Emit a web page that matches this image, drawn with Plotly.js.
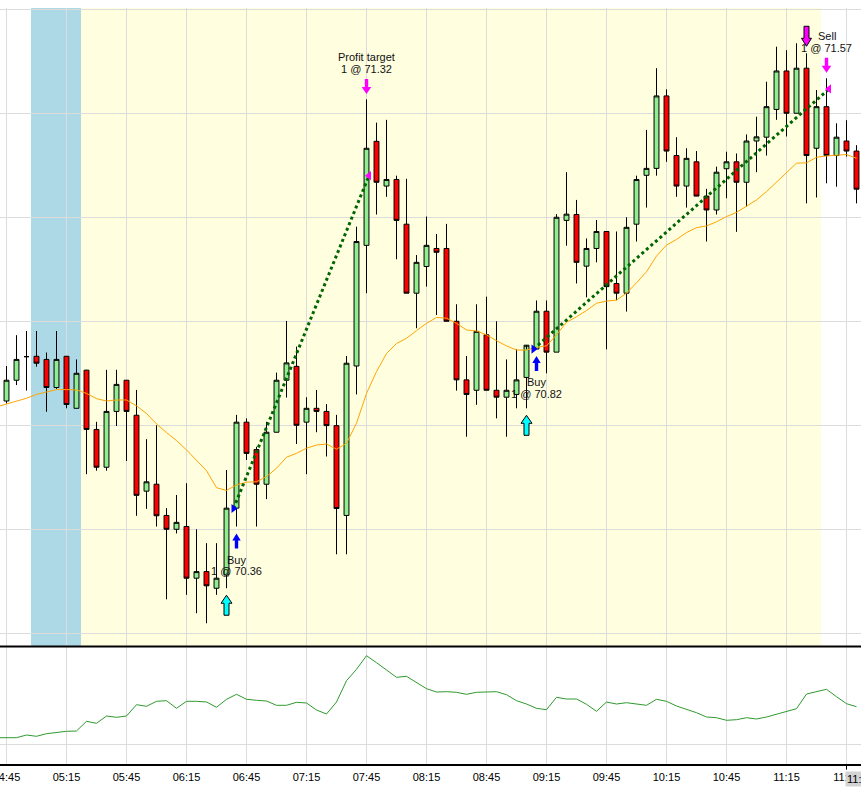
<!DOCTYPE html>
<html>
<head>
<meta charset="utf-8">
<script src="https://cdn.plot.ly/plotly-3.0.1.min.js"></script>
<style>html,body{margin:0;padding:0;background:#fff;}#chart{width:861px;height:790px;}</style>
</head>
<body>
<div id="chart"></div>
<script>
// ---------- DATA ----------
const day = '2024-01-02';
const times = ["04:45","04:50","04:55","05:00","05:05","05:10","05:15","05:20","05:25","05:30","05:35","05:40","05:45","05:50","05:55","06:00","06:05","06:10","06:15","06:20","06:25","06:30","06:35","06:40","06:45","06:50","06:55","07:00","07:05","07:10","07:15","07:20","07:25","07:30","07:35","07:40","07:45","07:50","07:55","08:00","08:05","08:10","08:15","08:20","08:25","08:30","08:35","08:40","08:45","08:50","08:55","09:00","09:05","09:10","09:15","09:20","09:25","09:30","09:35","09:40","09:45","09:50","09:55","10:00","10:05","10:10","10:15","10:20","10:25","10:30","10:35","10:40","10:45","10:50","10:55","11:00","11:05","11:10","11:15","11:20","11:25","11:30","11:35","11:40","11:45","11:50"];
const open = [70.670,70.730,70.798,70.799,70.790,70.709,70.799,70.649,70.759,70.588,70.479,70.640,70.730,70.629,70.410,70.430,70.340,70.300,70.308,70.159,70.178,70.130,70.168,70.361,70.609,70.530,70.430,70.580,70.730,70.770,70.609,70.649,70.640,70.599,70.340,70.771,71.119,71.419,71.290,71.309,71.180,70.981,71.058,71.110,71.110,70.900,70.731,70.701,70.861,70.701,70.681,70.689,70.738,70.820,70.929,70.811,71.191,71.208,71.059,71.110,71.159,71.009,70.981,71.180,71.321,71.341,71.550,71.378,71.290,71.360,71.261,71.221,71.340,71.360,71.301,71.420,71.431,71.511,71.622,71.500,71.630,71.399,71.519,71.378,71.420,71.391];
const high = [70.771,70.860,70.872,70.872,70.810,70.872,70.800,70.790,70.760,70.610,70.760,70.760,70.730,70.702,70.560,70.600,70.361,70.399,70.433,70.300,70.260,70.260,70.471,70.630,70.620,70.538,70.610,70.752,70.901,70.827,70.681,70.702,70.661,70.630,70.800,71.173,71.540,71.473,71.481,71.320,71.311,71.091,71.202,71.152,71.181,70.949,70.800,70.949,70.971,70.900,70.790,70.819,70.819,70.960,70.960,71.209,71.330,71.250,71.139,71.192,71.159,71.159,71.200,71.320,71.452,71.630,71.569,71.431,71.399,71.391,71.282,71.346,71.389,71.384,71.439,71.490,71.591,71.692,71.682,71.702,71.673,71.567,71.601,71.471,71.480,71.408];
const low = [70.663,70.716,70.700,70.769,70.639,70.705,70.649,70.649,70.459,70.469,70.469,70.598,70.497,70.339,70.359,70.308,70.098,70.288,70.111,70.058,70.029,70.111,70.130,70.308,70.500,70.308,70.387,70.579,70.680,70.546,70.459,70.580,70.510,70.228,70.228,70.689,70.981,71.208,71.259,71.079,70.981,70.880,71.000,70.918,70.900,70.700,70.567,70.659,70.701,70.620,70.567,70.649,70.649,70.820,70.750,70.811,71.118,71.009,70.969,71.070,70.819,70.961,70.928,71.130,71.228,71.320,71.360,71.259,71.228,71.261,71.130,71.208,71.255,71.158,71.231,71.330,71.378,71.481,71.433,71.500,71.240,71.257,71.298,71.288,71.375,71.240];
const close = [70.730,70.790,70.798,70.779,70.709,70.790,70.660,70.750,70.588,70.479,70.640,70.718,70.640,70.398,70.437,70.339,70.300,70.320,70.159,70.178,70.137,70.159,70.361,70.609,70.519,70.430,70.580,70.730,70.780,70.600,70.649,70.640,70.599,70.360,70.779,71.130,71.399,71.301,71.309,71.191,70.981,71.070,71.119,71.099,70.900,70.731,70.689,70.871,70.701,70.681,70.701,70.731,70.831,70.929,70.811,71.200,71.209,71.070,71.110,71.159,71.000,70.981,71.171,71.309,71.341,71.550,71.391,71.290,71.370,71.261,71.221,71.330,71.360,71.301,71.420,71.432,71.519,71.622,71.500,71.630,71.378,71.519,71.378,71.431,71.391,71.281];

// moving average and lower indicator (first point one bar before the first candle)
const lineTimes = ["04:40"].concat(times);
const movingAvg = [70.653,70.661,70.670,70.678,70.689,70.696,70.703,70.703,70.702,70.692,70.677,70.670,70.673,70.673,70.656,70.634,70.604,70.579,70.556,70.529,70.500,70.469,70.420,70.412,70.428,70.436,70.437,70.452,70.476,70.508,70.519,70.534,70.543,70.546,70.531,70.548,70.606,70.692,70.755,70.807,70.836,70.851,70.873,70.894,70.911,70.909,70.894,70.875,70.872,70.861,70.844,70.829,70.817,70.817,70.825,70.829,70.861,70.897,70.913,70.931,70.952,70.958,70.961,70.981,71.011,71.043,71.088,71.120,71.136,71.156,71.170,71.175,71.187,71.202,71.214,71.231,71.250,71.274,71.301,71.327,71.356,71.357,71.373,71.377,71.380,71.381,71.370];
const indicator = [26.3,26.0,26.3,29.0,27.7,30.3,31.7,32.7,33.0,42.7,40.7,48.0,46.7,48.0,59.3,57.7,62.7,63.3,55.7,62.7,62.7,62.0,56.7,64.7,69.7,64.7,63.7,63.0,58.7,58.7,61.7,61.0,54.0,50.0,62.0,83.3,94.7,108.3,101.3,94.0,86.7,87.7,81.3,75.3,72.0,72.3,71.7,69.7,71.7,71.7,72.3,69.3,63.3,60.0,55.7,54.3,66.7,65.0,65.0,59.7,52.7,62.0,60.0,61.3,60.0,58.7,64.7,62.7,58.0,55.0,51.3,47.0,46.3,43.7,44.3,46.3,45.0,47.0,49.7,52.3,55.3,70.0,72.0,74.7,67.3,60.3,57.3];

// trades
const signalBuyTimes = ["06:35","09:05"];
const entryTimes = ["06:40","09:10"];
const entryPrices = [70.36,70.82];
const entryLabels = ["Buy","Buy"];
const exitTimes = ["07:45","11:35"];
const exitPrices = [71.32,71.57];
const exitLabels = ["Profit target","Sell"];
const signalSellTimes = ["11:25"];

// sessions
const preSession = ["04:57:15","05:22:15"];
const mainSession = ["05:22:15","11:32:15"];
const cursorTime = "11:45";

// ---------- HELPERS ----------
function toMs(t){ const p=t.split(':').map(Number); return Date.UTC(2024,0,2,p[0],p[1],p[2]||0); }
function toStr(ms){ const s=new Date(ms).toISOString(); return s.slice(0,10)+' '+s.slice(11,19); }
function d(t){ return toStr(toMs(t)); }
function shift(t,sec){ return toStr(toMs(t)+sec*1000); }
function idx(t){ return times.indexOf(t); }

const FONT = 'Liberation Sans, Arial, sans-serif';
const x = times.map(d);

const traces = [];
traces.push({
  type:'candlestick', x:x, open:open, high:high, low:low, close:close,
  xaxis:'x', yaxis:'y',
  increasing:{fillcolor:'#90EE90', line:{color:'#000', width:1}},
  decreasing:{fillcolor:'#FF0000', line:{color:'#000', width:1}},
  whiskerwidth:0, hoverinfo:'skip'
});
traces.push({type:'scatter', mode:'lines', x:lineTimes.map(d), y:movingAvg, xaxis:'x', yaxis:'y',
  line:{color:'#FFA500', width:1}, hoverinfo:'skip'});
traces.push({type:'scatter', mode:'lines', x:lineTimes.map(d), y:indicator, xaxis:'x', yaxis:'y2',
  line:{color:'#2E9A2E', width:1}, hoverinfo:'skip'});
for(let k=0;k<entryTimes.length;k++){
  traces.push({type:'scatter', mode:'lines',
    x:[shift(entryTimes[k],-90), shift(exitTimes[k],75)], y:[entryPrices[k], exitPrices[k]],
    xaxis:'x', yaxis:'y', line:{color:'#006400', width:3, dash:'dot'}, hoverinfo:'skip'});
}
traces.push({type:'scatter', mode:'markers', x:entryTimes.map(t=>shift(t,-90)), y:entryPrices,
  xaxis:'x', yaxis:'y', marker:{symbol:'triangle-right', size:8, color:'#0000FF'}, hoverinfo:'skip'});
traces.push({type:'scatter', mode:'markers', x:exitTimes.map(t=>shift(t,75)), y:exitPrices,
  xaxis:'x', yaxis:'y', marker:{symbol:'triangle-left', size:8, color:'#FF00FF'}, hoverinfo:'skip'});

// arrow path in pixels, tip at distance off from anchor; dir=1 up-pointing below anchor, dir=-1 down-pointing above
function arrowPath(dir, off, len, hl, hh, sh){
  const s = -dir; // positive pixel y is up
  const ty = s*off, hy = s*(off+hl), by = s*(off+len);
  return `M0,${ty} L${hh},${hy} L${sh},${hy} L${sh},${by} L${-sh},${by} L${-sh},${hy} L${-hh},${hy} Z`;
}
const shapes = [];
shapes.push({type:'rect', xref:'x', yref:'y domain', x0:d(preSession[0]), x1:d(preSession[1]), y0:0, y1:1,
  fillcolor:'#ADD8E6', line:{width:0}, layer:'below'});
shapes.push({type:'rect', xref:'x', yref:'y domain', x0:d(mainSession[0]), x1:d(mainSession[1]), y0:0, y1:1,
  fillcolor:'#FFFFE0', line:{width:0}, layer:'below'});
function arrowShape(t, price, dir, off, len, hl, hh, sh, fill, outline){
  return {type:'path', xref:'x', yref:'y', xsizemode:'pixel', ysizemode:'pixel',
    xanchor:d(t), yanchor:price, path:arrowPath(dir,off,len,hl,hh,sh),
    fillcolor:fill, line:{color:outline||fill, width:outline?1:0}, layer:'above'};
}
signalBuyTimes.forEach(t=>shapes.push(arrowShape(t, low[idx(t)], 1, 7, 20, 8, 5.5, 2.5, '#00FFFF', '#000')));
signalSellTimes.forEach(t=>shapes.push(arrowShape(t, high[idx(t)], -1, 7, 20, 8, 5, 2.5, '#FF00FF', '#000')));
entryTimes.forEach(t=>shapes.push(arrowShape(t, low[idx(t)], 1, 7, 15, 7, 4.2, 1.7, '#0000FF')));
exitTimes.forEach(t=>shapes.push(arrowShape(t, high[idx(t)], -1, 5.5, 15, 7, 4.8, 1.7, '#FF00FF')));
// divider between panels
shapes.push({type:'line', xref:'paper', yref:'paper', x0:0, x1:1, y0:0.1554, y1:0.1554, line:{color:'#000', width:2}});
// cursor tick
shapes.push({type:'line', xref:'x', yref:'paper', x0:d(cursorTime), x1:d(cursorTime), y0:0, y1:-0.0075, line:{color:'#000', width:1}});

const annotations = [];
const tf = {family:FONT, size:11, color:'#111'};
entryTimes.forEach((t,k)=>{
  const lo = low[idx(t)];
  annotations.push({x:d(t), y:lo, xref:'x', yref:'y', text:entryLabels[k], showarrow:false, yanchor:'middle', xanchor:'center', yshift:-33, font:tf});
  annotations.push({x:d(t), y:lo, xref:'x', yref:'y', text:'1 @ '+entryPrices[k].toFixed(2), showarrow:false, yanchor:'middle', xanchor:'center', yshift:-44.5, font:tf});
});
exitTimes.forEach((t,k)=>{
  const hi = high[idx(t)];
  annotations.push({x:d(t), y:hi, xref:'x', yref:'y', text:exitLabels[k], showarrow:false, yanchor:'middle', xanchor:'center', yshift:42.5, font:tf});
  annotations.push({x:d(t), y:hi, xref:'x', yref:'y', text:'1 @ '+exitPrices[k].toFixed(2), showarrow:false, yanchor:'middle', xanchor:'center', yshift:30.5, font:tf});
});
annotations.push({x:d(cursorTime), y:0, xref:'x', yref:'paper', text:'11:45', showarrow:false, xanchor:'left', yanchor:'top',
  xshift:-2, yshift:-7, bgcolor:'#D3D3D3', borderpad:1, font:{family:FONT, size:11, color:'#000'}});

const layout = {
  width:861, height:790,
  margin:{l:0, r:0, t:8, b:26, pad:0},
  paper_bgcolor:'#FFFFFF', plot_bgcolor:'#FFFFFF',
  showlegend:false, dragmode:false,
  xaxis:{type:'date', anchor:'y2', range:[shift('04:45',-195), shift('04:45',25635)],
    tick0:d('04:45'), dtick:1800000, tickformat:'%H:%M',
    showgrid:true, gridcolor:'#DCDCDC', gridwidth:1, zeroline:false,
    showline:true, linecolor:'#000', linewidth:2, ticks:'', ticklabeloverflow:'allow', ticklabelstandoff:2,
    tickfont:{family:FONT, size:11, color:'#000'}, rangeslider:{visible:false}, fixedrange:true},
  yaxis:{domain:[0.15608,1], range:[69.9634,71.8036], tick0:70, dtick:0.3, showticklabels:false,
    showgrid:true, gridcolor:'#DCDCDC', gridwidth:1, zeroline:false, ticks:'', fixedrange:true},
  yaxis2:{domain:[0,0.15476], range:[0,117], tickvals:[20], showticklabels:false,
    showgrid:true, gridcolor:'#DCDCDC', gridwidth:1, zeroline:false, ticks:'', fixedrange:true},
  shapes:shapes, annotations:annotations
};
Plotly.newPlot('chart', traces, layout, {displayModeBar:false, staticPlot:true});
</script>
</body>
</html>
